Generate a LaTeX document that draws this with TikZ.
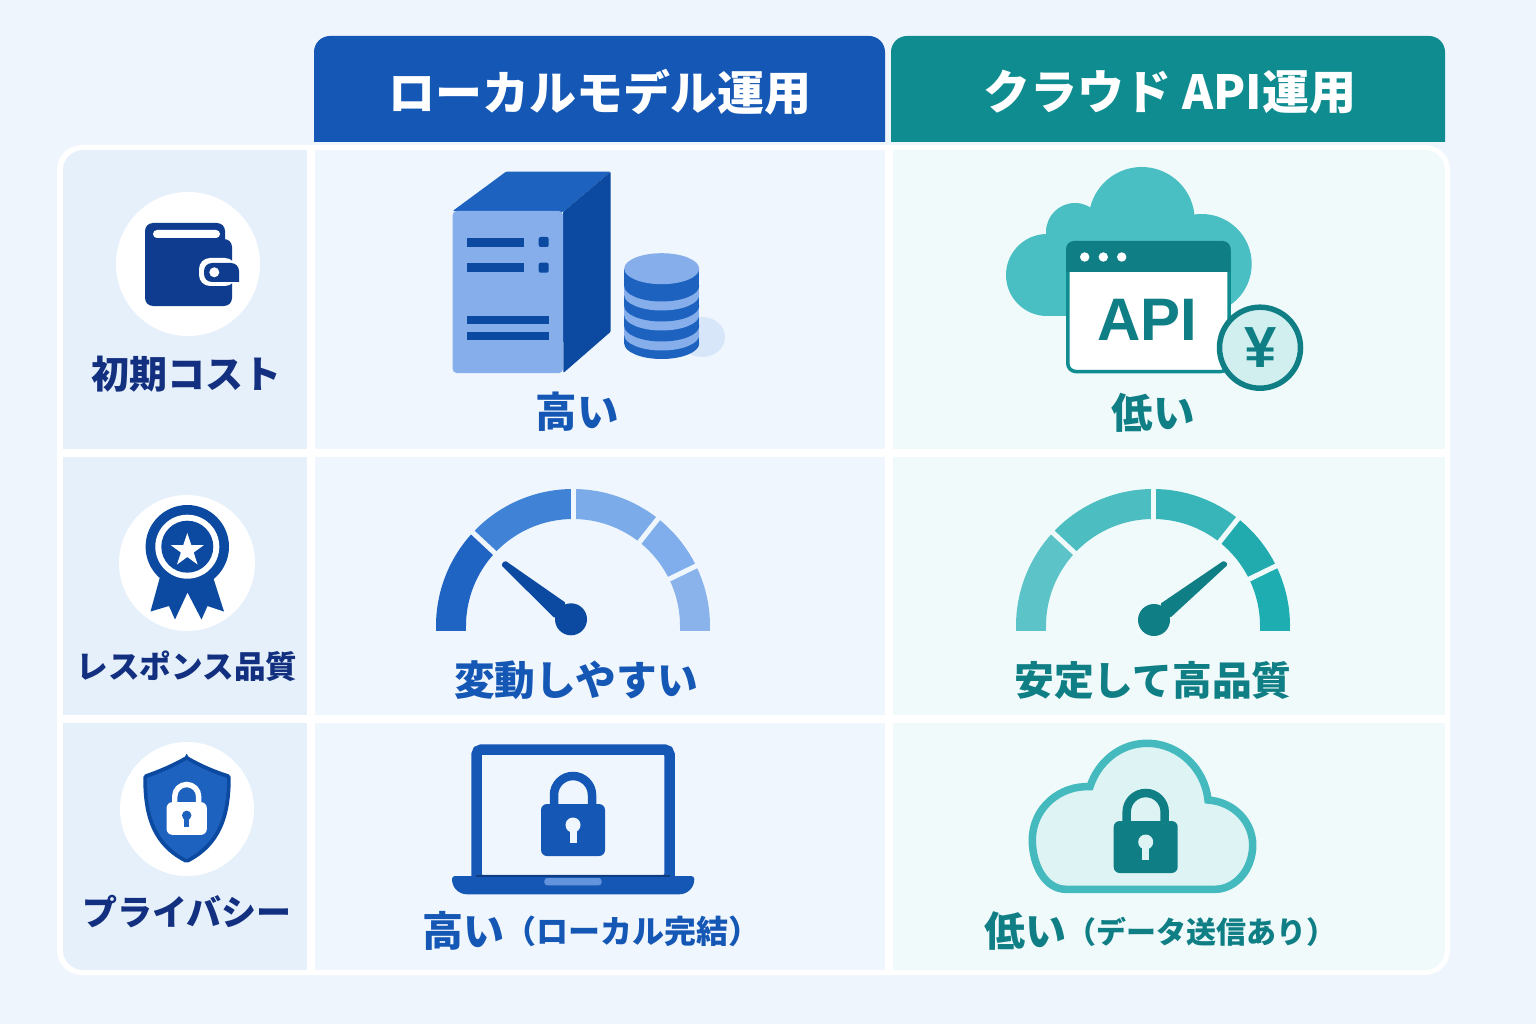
\documentclass[tikz,border=0pt]{standalone}
\usepackage{fontspec}
\setmainfont{Noto Sans CJK JP}
\newfontfamily\latinfont{Liberation Sans}
\usetikzlibrary{positioning}

\definecolor{pagebg}{HTML}{EFF5FD}
\definecolor{labelbg}{HTML}{E6F0FA}
\definecolor{localbg}{HTML}{F0F6FD}
\definecolor{cloudbg}{HTML}{F0FAFA}
\definecolor{navy}{HTML}{12307F}
\definecolor{walletblue}{HTML}{0F3C8E}
\definecolor{hdrblue}{HTML}{1557B5}
\definecolor{hdrteal}{HTML}{0E8C8F}
\definecolor{deepblue}{HTML}{0B4AA0}
\definecolor{midblue}{HTML}{1E62C0}
\definecolor{paleblue}{HTML}{85AEEB}
\definecolor{deepteal}{HTML}{0F7F85}
\definecolor{cloudteal}{HTML}{4ABFC3}

\newcommand{\jpsize}[1]{\fontsize{#1}{#1}\selectfont\bfseries}

\tikzset{
    hdrtext/.style={text=white,font=\jpsize{47}},
    rowtext/.style={text=navy},
    bluetext/.style={text=hdrblue,font=\jpsize{41.5}},
    tealtext/.style={text=deepteal,font=\jpsize{41.5}},
    iconcirc/.style={fill=white},
    pics/padlock/.style n args={3}{code={
        \begin{scope}[y=1pt]
            \draw[#1,line width=#3] (-19,24) -- (-19,35) arc[start angle=180,end angle=0,radius=19] -- (19,24);
            \fill[#1,rounded corners=6] (-32,-26) rectangle (32,26);
            \fill[#2] (0,5) circle (7.5);
            \fill[#2] (-3.5,5) rectangle (3.5,-13);
        \end{scope}
    }}
}

\begin{document}
\begin{tikzpicture}[x=1pt,y=-1pt]
    \useasboundingbox (0,0) rectangle (1536,1024);
    \fill[pagebg] (0,0) rectangle (1536,1024);

    % table
    \fill[white,rounded corners=25] (57,145) rectangle (1450,975);
    \begin{scope}
        \clip[rounded corners=20] (63,150) rectangle (1445,970);
        \foreach \ya/\yb in {150/449,457/715,723/970} {
            \fill[labelbg] (63,\ya) rectangle (307,\yb);
            \fill[localbg] (315,\ya) rectangle (885,\yb);
            \fill[cloudbg] (893,\ya) rectangle (1445,\yb);
        }
    \end{scope}

    % headers
    \fill[hdrblue] (314,142) [rounded corners=16] -- (314,36) -- (885,36) [sharp corners] -- (885,142) -- cycle;
    \fill[hdrteal] (891,142) [rounded corners=16] -- (891,36) -- (1445,36) [sharp corners] -- (1445,142) -- cycle;
    \node (hlocal) [hdrtext] at (600,92) {ローカルモデル運用};
    \node (hcloud) [hdrtext] at (1170,92) {クラウド API運用};

    % row labels
    \fill[iconcirc] (188,264) circle (72);
    \fill[iconcirc] (187,563) circle (68);
    \fill[iconcirc] (187,809) circle (67);
    \node (lcost) [rowtext,font=\jpsize{38}] at (186,374) {初期コスト};
    \node (lresp) [rowtext,font=\jpsize{31.6}] at (187,666) {レスポンス品質};
    \node (lpriv) [rowtext,font=\jpsize{35}] at (187,912) {プライバシー};

    % wallet
    \fill[walletblue,rounded corners=8] (145,223) rectangle (225,290);
    \fill[white,rounded corners=4] (153,230) rectangle (220,238);
    \fill[walletblue,rounded corners=8] (145,239) rectangle (232,306);
    \fill[white,rounded corners=11] (199,258) rectangle (236,286);
    \fill[walletblue,rounded corners=8] (204,263) -- (239,263) [sharp corners] -- (239,282) [rounded corners=8] -- (204,282) -- cycle;
    \fill[white] (214.3,272.3) circle (5);

    % medal
    \fill[deepblue] (160,577) -- (150.5,611.5) -- (169,606) -- (175,619.5) -- (187.5,592.5) -- (201.5,619.5) -- (207.5,606) -- (224,611.5) -- (213,577) -- cycle;
    \fill[deepblue] (187.3,546.7) circle (41.7);
    \fill[white] (187.3,546.7) circle (32);
    \fill[deepblue] (187.3,546.7) circle (26);
    \fill[white] (187.3,533) -- (191.3,545) -- (204,545) -- (193.7,552.5) -- (197.6,564.5) -- (187.3,557) -- (177,564.5) -- (180.9,552.5) -- (170.6,545) -- (183.3,545) -- cycle;

    % shield
    \fill[deepblue,rounded corners=2] (186.7,755.7) .. controls (172,764) and (158,770) .. (143.3,775) .. controls (143,818) and (153,846) .. (186.7,863.3) .. controls (220,846) and (231,818) .. (230.7,775) .. controls (215,770) and (201,764) .. (186.7,755.7) -- cycle;
    \fill[midblue] (186.7,760) .. controls (173,768) and (160,773.5) .. (147,778) .. controls (147,818) and (157,843) .. (186.7,859) .. controls (216,843) and (227,818) .. (227,778) .. controls (213,773.5) and (200,768) .. (186.7,760) -- cycle;
    \pic at (186.7,818.5) [scale=0.63] {padlock={white}{midblue}{5.4pt}};

    % server
    \fill[midblue,rounded corners=1] (452.7,211) -- (506,171.7) -- (610.7,171.7) -- (563,212) -- cycle;
    \fill[deepblue,rounded corners=1] (563,212) -- (610.7,171.7) -- (610.7,331.7) -- (563.3,373) -- cycle;
    \fill[paleblue,rounded corners=4] (452.7,211) rectangle (563,373);
    \foreach \ya/\yb/\xb in {237.7/247/524,263.3/272.3/524,315.7/323.7/548.7,332/340.3/548.7} {
        \fill[deepblue] (467,\ya) rectangle (\xb,\yb);
    }
    \foreach \y in {242,267.7} {
        \fill[deepblue,rounded corners=2] (538.7,\y-5) rectangle (548.7,\y+5);
    }

    % disks
    \fill[paleblue!22!localbg] (702,337) ellipse (23 and 20);
    \foreach \ya/\yb/\c in {335/343.5/midblue,326/335/paleblue,315/326/midblue,306/315/paleblue,295/306/midblue,286/295/paleblue,268.7/286/midblue} {
        \fill[\c] (661.7,\yb) ellipse (37.5 and 15.5);
        \fill[\c] (624.2,\ya) rectangle (699.2,\yb);
    }
    \fill[paleblue] (661.7,268.7) ellipse (37.5 and 15.5);
    \node (vcostl) [bluetext] at (577,412) {高い};

    % api cloud
    \begin{scope}[cloudteal]
        \fill (1047,275) circle (41);
        \fill (1075,232) circle (29);
        \fill (1141.7,220) circle (53);
        \fill (1201.7,264) circle (50);
        \fill (1047,260) rectangle (1210,316);
    \end{scope}
    \draw[hdrteal,fill=white,line width=3.5pt,rounded corners=8] (1067.8,243) rectangle (1229,371.5);
    \fill[deepteal] (1066,272) [rounded corners=8] -- (1066,241) -- (1230.7,241) [sharp corners] -- (1230.7,272) -- cycle;
    \foreach \x in {1084.7,1103.3,1121.7} {
        \fill[white] (\x,257) circle (4.7);
    }
    \node (api) [text=deepteal,font=\latinfont\fontsize{60}{60}\selectfont\bfseries] at (1147.5,320) {API};
    \draw[deepteal,fill=cloudteal!25,line width=5.5pt] (1260,347.7) circle (40.5);
    \node (yen) [text=deepteal,font=\latinfont\fontsize{58}{58}\selectfont\bfseries] at (1261,348) {¥};
    \node (vcostc) [tealtext] at (1153,413) {低い};

    % gauges
    \definecolor{gbluea}{HTML}{1F64C2}
    \definecolor{gblueb}{HTML}{4083D6}
    \definecolor{gbluec}{HTML}{7CABEA}
    \definecolor{gblued}{HTML}{80ADEB}
    \definecolor{gbluee}{HTML}{8AB3EC}
    \definecolor{gteala}{HTML}{5CC4C8}
    \definecolor{gtealb}{HTML}{4CBEC2}
    \definecolor{gtealc}{HTML}{38B5B9}
    \definecolor{gteald}{HTML}{22ABAF}
    \definecolor{gteale}{HTML}{1EADB1}
    \begin{scope}[shift={(573,626)},y=1pt]
        \foreach \s/\e/\c in {180/137/gbluea,137/90/gblueb,90/51.6/gbluec,51.6/26/gblued,26/0/gbluee} {
            \fill[\c] (\s:137) arc[start angle=\s,end angle=\e,radius=137] -- (\e:107) arc[start angle=\e,end angle=\s,radius=107] -- cycle;
        }
        \fill[gbluea] (-137,0) rectangle (-107,-5);
        \fill[gbluee] (137,0) rectangle (107,-5);
        \foreach \a in {137,90,51.6,26} {
            \draw[localbg,line width=5pt] (\a:105) -- (\a:139);
        }
    \end{scope}
    \fill[deepblue,rounded corners=1.5] (501,565) -- (505,560.5) -- (566,603) -- (555,618.5) -- cycle;
    \fill[deepblue] (571,619.3) circle (16);
    \node (vrespl) [bluetext,font=\jpsize{40.7}] at (576,680) {変動しやすい};

    \begin{scope}[shift={(1153,626)},y=1pt]
        \foreach \s/\e/\c in {180/137/gteala,137/90/gtealb,90/51.6/gtealc,51.6/26/gteald,26/0/gteale} {
            \fill[\c] (\s:137) arc[start angle=\s,end angle=\e,radius=137] -- (\e:107) arc[start angle=\e,end angle=\s,radius=107] -- cycle;
        }
        \fill[gteala] (-137,0) rectangle (-107,-5);
        \fill[gteale] (137,0) rectangle (107,-5);
        \foreach \a in {137,90,51.6,26} {
            \draw[cloudbg,line width=5pt] (\a:105) -- (\a:139);
        }
    \end{scope}
    \fill[deepteal,rounded corners=1.5] (1224,560.5) -- (1228,564.5) -- (1170,618) -- (1160,604) -- cycle;
    \fill[deepteal] (1154,620) circle (16);
    \node (vrespc) [tealtext,font=\jpsize{39.8}] at (1153,680) {安定して高品質};

    % laptop
    \draw[hdrblue,line width=10.5pt,rounded corners=5] (476.5,749.5) rectangle (669.5,880);
    \fill[hdrblue] (452,876) [rounded corners=3] -- (694.3,876) [rounded corners=15] -- (694.3,894.3) -- (452,894.3) [rounded corners=3] -- cycle;
    \fill[hdrblue!70!black] (476,875) rectangle (670,876.5);
    \fill[paleblue!70!hdrblue,rounded corners=3] (544.3,878) -- (601.7,878) -- (601.7,885.3) -- (544.3,885.3) -- cycle;
    \pic at (573,830) {padlock={hdrblue}{localbg}{8.5pt}};
    \node (vprivl) [bluetext,anchor=west,inner sep=0pt] at (422,930.5) {\jpsize{41}高い\raisebox{2.5pt}{\jpsize{32}（ローカル完結）}};

    % private cloud
    \draw[cloudteal!90!hdrteal,fill=cloudteal!18!white,line width=7.5pt] (1066,889.3) .. controls (1045,889.3) and (1032.3,865) .. (1032.3,840) .. controls (1032.3,808) and (1060,785) .. (1090,786.7) .. controls (1098,762) and (1120,743.3) .. (1147,743.3) .. controls (1180,743.3) and (1205,770) .. (1208,800) .. controls (1235,802) and (1252.7,823) .. (1252.7,845) .. controls (1252.7,870) and (1235,889.3) .. (1215,889.3) -- cycle;
    \pic at (1145.7,847) {padlock={deepteal}{cloudteal!18!white}{8.5pt}};
    \node (vprivc) [tealtext,anchor=west,inner sep=0pt] at (984,930.5) {\jpsize{41}低い\raisebox{2.5pt}{\jpsize{30}（データ送信あり）}};
\end{tikzpicture}
\end{document}
